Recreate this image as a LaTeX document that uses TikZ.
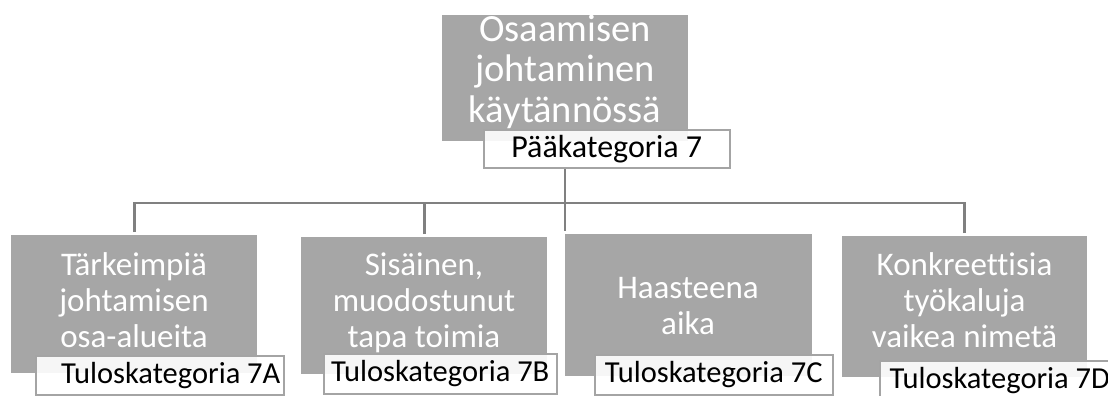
\documentclass[tikz,border=0pt]{standalone}
\usepackage{fontspec}
\setmainfont{Carlito}[Ligatures=NoCommon]
\definecolor{boxgrey}{HTML}{A6A6A6}
\definecolor{linegrey}{HTML}{808080}
\definecolor{lblborder}{HTML}{A4A4A4}
\begin{document}
\begin{tikzpicture}[x=1pt,y=-1pt,
  greybox/.style={fill=boxgrey, draw=none, inner sep=0pt, anchor=north west},
  lblbox/.style={fill=white, fill opacity=0.9, text opacity=1, draw=lblborder, line width=1.5pt,
    inner sep=0pt, anchor=north west, text=black},
  bigtext/.style={text=white, align=center, inner sep=0pt, anchor=base,
    font=\fontsize{38.5pt}{40.5pt}\selectfont},
  subtext/.style={text=white, align=center, inner sep=0pt, anchor=base,
    font=\fontsize{33pt}{36pt}\selectfont},
  toplbl/.style={font=\fontsize{32pt}{36pt}\selectfont},
  sublbl/.style={font=\fontsize{30.5pt}{35pt}\selectfont},
  conn/.style={draw=linegrey, line width=2.6pt}]
\useasboundingbox (0,0) rectangle (1108,396);

% junction of the connectors
\coordinate (j) at (565,203);

% grey boxes
\node[greybox, minimum width=246pt, minimum height=126pt] (top) at (442,15) {};
\node[greybox, minimum width=246pt, minimum height=138pt] (ga) at (11,235) {};
\node[greybox, minimum width=246pt, minimum height=137pt] (gb) at (301,237) {};
\node[greybox, minimum width=247pt, minimum height=142pt] (gc) at (565,234) {};
\node[greybox, minimum width=245pt, minimum height=141pt] (gd) at (842,236) {};

% connectors
\draw[conn] (j) -- (j |- 0,167);
\draw[conn] ([yshift=3pt]ga.north) |- (j);
\draw[conn] ([yshift=3pt]gb.north) |- (j);
\draw[conn] ([yshift=3pt]gd.north) |- (j);
\draw[conn] (j) -- ([yshift=3pt]gc.north west);

% texts of grey boxes (anchor base = last line)
\node[bigtext] (ttop) at (565,122) {Osaamisen\\johtaminen\\käytännössä};
\node[subtext] (ta) at (134,347) {Tärkeimpiä\\johtamisen\\osa-alueita};
\node[subtext] (tb) at (424,347) {Sisäinen,\\muodostunut\\tapa toimia};
\node[subtext] (tc) at (688,334) {Haasteena\\aika};
\node[subtext] (td) at (964.5,347) {Konkreettisia\\työkaluja\\vaikea nimetä};

% labels
\node[lblbox, toplbl, minimum width=246pt, minimum height=38pt] (ltop) at (483,129) {Pääkategoria 7};
\node[lblbox, sublbl, minimum width=248pt, minimum height=39pt] (la) at (35,355) {\hspace*{22pt}Tuloskategoria 7A};
\node[lblbox, sublbl, minimum width=233pt, minimum height=40pt] (lb) at (323,353) {Tuloskategoria 7B};
\node[lblbox, sublbl, minimum width=238pt, minimum height=40pt] (lc) at (594,354) {Tuloskategoria 7C};
\node[lblbox, sublbl, minimum width=240pt, minimum height=40pt] (ld) at (879,360) {Tuloskategoria 7D};
\end{tikzpicture}
\end{document}
